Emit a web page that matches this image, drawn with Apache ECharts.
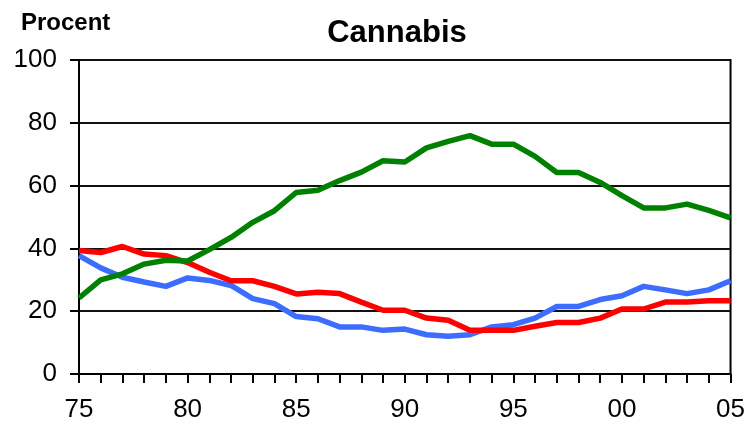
<!DOCTYPE html>
<html><head><meta charset="utf-8">
<script src="https://cdn.jsdelivr.net/npm/echarts@6/dist/echarts.min.js"></script>
<style>html,body{margin:0;padding:0;background:#fff}#c{width:748px;height:424px}</style>
</head><body><div id="c"></div>
<script>
const years = ["75","76","77","78","79","80","81","82","83","84","85","86","87","88","89","90","91","92","93","94","95","96","97","98","99","00","01","02","03","04","05"];
const greenSeries = [24.2,30.0,31.9,35.0,36.2,36.0,39.6,43.5,48.3,52.0,57.8,58.5,61.6,64.3,67.9,67.5,72.0,74.1,75.9,73.2,73.2,69.3,64.2,64.2,61.0,56.8,52.9,52.9,54.1,52.1,49.7];
const redSeries = [39.3,38.7,40.6,38.2,37.7,35.5,32.4,29.7,29.7,27.9,25.5,26.0,25.6,22.9,20.3,20.3,17.8,17.1,13.9,13.9,13.9,15.2,16.4,16.4,17.8,20.7,20.7,22.9,22.9,23.3,23.3];
const blueSeries = [37.7,33.8,30.8,29.3,27.9,30.6,29.8,28.2,24.0,22.4,18.3,17.6,15.0,15.0,13.9,14.3,12.5,12.0,12.5,15.0,15.7,17.8,21.5,21.5,23.7,24.9,27.9,26.8,25.6,26.8,29.7];
const yTicks = [0,20,40,60,80,100];
const titleText = "Cannabis";
const yName = "Procent";

const chart = echarts.init(document.getElementById('c'), null, {renderer:'canvas'});
const font = "'Liberation Sans', Arial, sans-serif";
chart.setOption({
  animation:false,
  backgroundColor:'#fff',
  title:{text:titleText,left:392,top:13,textAlign:'center',textStyle:{fontFamily:font,fontSize:31,fontWeight:'bold',color:'#000'}},
  graphic:[{type:'text',left:21,top:11,style:{text:yName,font:"bold 24px 'Liberation Sans', Arial, sans-serif",fill:'#000'}}],
  grid:{left:79,right:16,top:60,bottom:50,show:true,borderColor:'#000',borderWidth:2,containLabel:false},
  xAxis:{type:'category',data:years,boundaryGap:false,
    axisLine:{lineStyle:{color:'#000',width:2}},
    axisTick:{show:true,interval:0,length:9,inside:false,lineStyle:{color:'#000',width:2}},
    axisLabel:{interval:4,margin:23,fontFamily:font,fontSize:26,color:'#000'},
    splitLine:{show:false}},
  yAxis:{type:'value',min:yTicks[0],max:yTicks[yTicks.length-1],interval:20,
    axisLine:{show:true,lineStyle:{color:'#000',width:2}},
    axisTick:{show:true,length:9,lineStyle:{color:'#000',width:2}},
    axisLabel:{margin:22,fontFamily:font,fontSize:26,color:'#000'},
    splitLine:{show:true,lineStyle:{color:'#111',width:2}}},
  series:[
    {type:'line',data:blueSeries,symbol:'none',lineStyle:{color:'#3d6dff',width:5.5},z:2},
    {type:'line',data:redSeries,symbol:'none',lineStyle:{color:'#ff0000',width:5.5},z:3},
    {type:'line',data:greenSeries,symbol:'none',lineStyle:{color:'#008000',width:5.5},z:4}
  ]
});
</script></body></html>
